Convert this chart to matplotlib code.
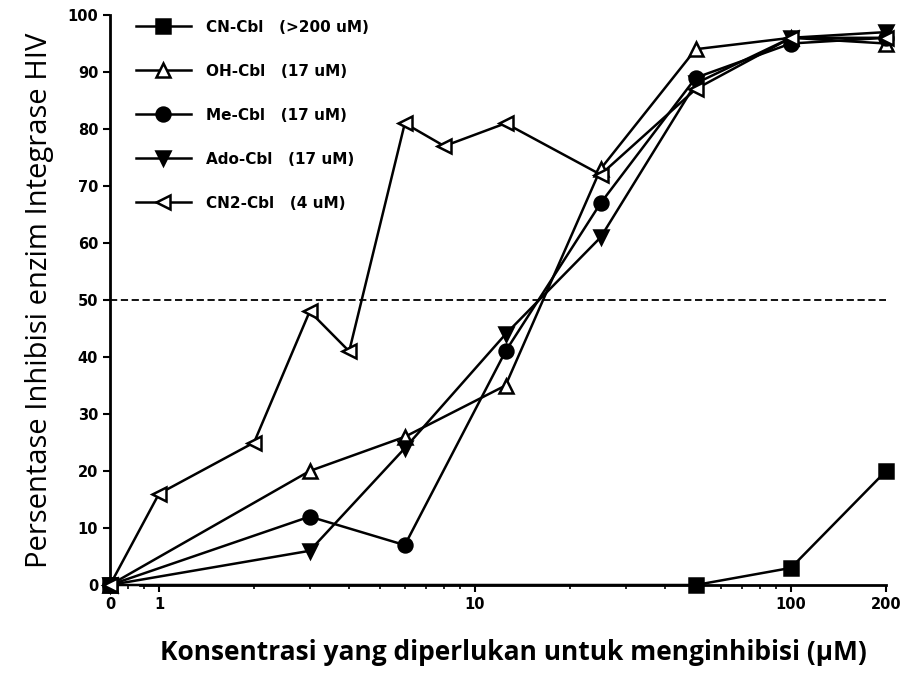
import matplotlib
matplotlib.use("Agg")
import matplotlib.pyplot as plt

# concentration 0 is drawn at the left edge of the log axis
ZERO_POS = 0.7

conc_cn = [0, 50, 100, 200]
inh_cn = [0, 0, 3, 20]

conc_oh = [0, 3, 6, 12.5, 25, 50, 100, 200]
inh_oh = [0, 20, 26, 35, 73, 94, 96, 95]

conc_me = [0, 3, 6, 12.5, 25, 50, 100, 200]
inh_me = [0, 12, 7, 41, 67, 89, 95, 96]

conc_ado = [0, 3, 6, 12.5, 25, 50, 100, 200]
inh_ado = [0, 6, 24, 44, 61, 88, 96, 97]

conc_cn2 = [0, 1, 2, 3, 4, 6, 8, 12.5, 25, 50, 100, 200]
inh_cn2 = [0, 16, 25, 48, 41, 81, 77, 81, 72, 87, 96, 96]

x_ticks = [0, 1, 10, 100, 200]
y_ticks = [0, 10, 20, 30, 40, 50, 60, 70, 80, 90, 100]

series = [
    ("CN-Cbl   (>200 uM)", conc_cn, inh_cn, "s", "black"),
    ("OH-Cbl   (17 uM)", conc_oh, inh_oh, "^", "white"),
    ("Me-Cbl   (17 uM)", conc_me, inh_me, "o", "black"),
    ("Ado-Cbl   (17 uM)", conc_ado, inh_ado, "v", "black"),
    ("CN2-Cbl   (4 uM)", conc_cn2, inh_cn2, "<", "white"),
]


def pos(values):
    return [ZERO_POS if v == 0 else v for v in values]


fig = plt.figure(figsize=(9.07, 6.82), dpi=100)
ax = fig.add_axes([110 / 907, 97 / 682, 776 / 907, 570 / 682])

for label, xs, ys, marker, face in series:
    ax.plot(pos(xs), ys, color="black", lw=1.8, marker=marker, ms=10,
            mfc=face, mec="black", mew=1.8, label=label, clip_on=False, zorder=3)

ax.axhline(50, color="black", ls="--", lw=1.3, dashes=(4, 2))

ax.set_xscale("log")
ax.set_xlim(ZERO_POS, 200)
ax.set_ylim(0, 100)

ax.set_xticks(pos(x_ticks), [str(t) for t in x_ticks])
ax.set_yticks(y_ticks, [str(t) for t in y_ticks])
ax.xaxis.get_major_ticks()[0].tick1line.set_visible(False)

for s in ["top", "right"]:
    ax.spines[s].set_visible(False)
ax.spines["bottom"].set_bounds(0.87, 200)
ax.spines["left"].set_linewidth(2)
ax.spines["bottom"].set_linewidth(2)
ax.tick_params(axis="both", width=1.5, length=5, direction="out")
ax.tick_params(axis="x", which="minor", length=3, width=1.2)

for t in ax.get_xticklabels() + ax.get_yticklabels():
    t.set_family("DejaVu Sans")
    t.set_fontweight("bold")
    t.set_fontsize(10.5)

ax.set_xlabel("Konsentrasi yang diperlukan untuk menginhibisi (µM)",
              family="Open Sans", fontweight="bold", fontsize=19)
ax.xaxis.set_label_coords(0.52, -0.095)
ax.set_ylabel("Persentase Inhibisi enzim Integrase HIV",
              family="Open Sans", fontsize=21, labelpad=10)

ax.legend(loc="upper left", bbox_to_anchor=(128 / 907, 1 - 12 / 682),
          bbox_transform=fig.transFigure, frameon=False, borderpad=0,
          handlelength=3.6, handletextpad=1.0, labelspacing=1.9,
          prop={"family": "DejaVu Sans", "weight": "bold", "size": 11})

fig.savefig("out.png", dpi=100)
